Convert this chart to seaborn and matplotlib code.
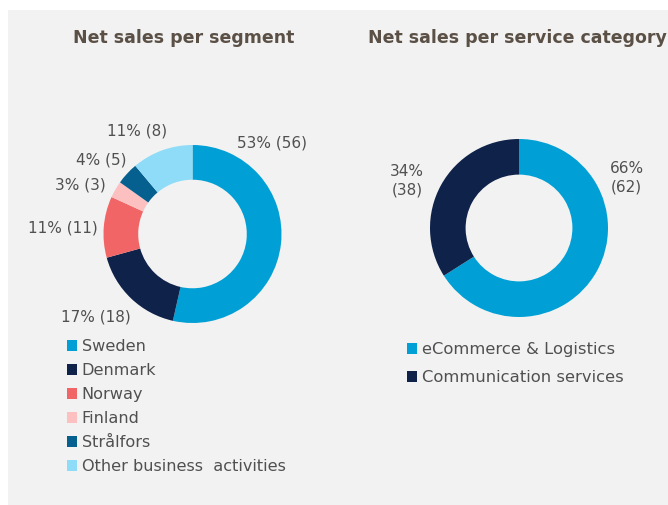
import matplotlib
matplotlib.use("Agg")
import matplotlib.pyplot as plt
import matplotlib.patches as mpatches
import seaborn as sns

# data
segments = ["Sweden", "Denmark", "Norway", "Finland", "Strålfors", "Other business  activities"]
segment_pct = [53, 17, 11, 3, 4, 11]
segment_sek = [56, 18, 11, 3, 5, 8]
segment_colors = ["#00a0d6", "#0f2249", "#f16566", "#fcc0c0", "#05608f", "#8edcf8"]

services = ["eCommerce & Logistics", "Communication services"]
service_pct = [66, 34]
service_sek = [62, 38]
service_colors = ["#00a0d6", "#0f2249"]

sns.set_theme(style="white")
plt.rcParams["font.family"] = ["DejaVu Sans"]

TXT = "#505050"
TITLE = "#5b5046"

fig = plt.figure(figsize=(6.68, 5.05), dpi=100)
fig.patch.set_facecolor("white")
fig.patches.append(mpatches.Rectangle((8 / 668, 0), 1, 1 - 10 / 505, transform=fig.transFigure,
                                      facecolor="#f2f2f2", edgecolor="none", zorder=-10))

L = 1.6
R = 89.0
W = 2 * L * R


def donut_axes(cx, cy):
    left = (cx - W / 2) / 668
    bottom = (505 - cy - W / 2) / 505
    ax = fig.add_axes([left, bottom, W / 668, W / 505])
    ax.set_facecolor("none")
    ax.axis("off")
    return ax


# left donut - per segment
ax1 = donut_axes(192.5, 234)
ax1.pie(segment_pct, colors=segment_colors, startangle=90, counterclock=False,
        radius=1, wedgeprops=dict(width=0.39, linewidth=0))
ax1.set_xlim(-L, L)
ax1.set_ylim(-L, L)
ax1.set_aspect("equal")
label_pos1 = [(0.89, 1.02), (-1.09, -0.93), (-1.46, 0.07), (-1.26, 0.55), (-1.03, 0.83), (-0.62, 1.16)]
for (x, y), p, v in zip(label_pos1, segment_pct, segment_sek):
    ax1.text(x, y, f"{p}% ({v})", ha="center", va="center", fontsize=11, color=TXT, clip_on=False)

# right donut - per service category
ax2 = donut_axes(519, 228)
ax2.pie(service_pct, colors=service_colors, startangle=90, counterclock=False,
        radius=1, wedgeprops=dict(width=0.4, linewidth=0))
ax2.set_xlim(-L, L)
ax2.set_ylim(-L, L)
ax2.set_aspect("equal")
label_pos2 = [(1.21, 0.56), (-1.26, 0.53)]
for (x, y), p, v in zip(label_pos2, service_pct, service_sek):
    ax2.text(x, y, f"{p}%\n({v})", ha="center", va="center", fontsize=11, color=TXT,
             linespacing=1.3, clip_on=False)

# titles
fig.text(183.5 / 668, 1 - 38 / 505, "Net sales per segment", ha="center", va="center",
         fontsize=12.5, fontweight="bold", color=TITLE)
fig.text(368 / 668, 1 - 38 / 505, "Net sales per service category", ha="left", va="center",
         fontsize=12.5, fontweight="bold", color=TITLE)

# legends
h1 = [mpatches.Patch(facecolor=c, edgecolor="none") for c in segment_colors]
lg1 = fig.legend(h1, segments, loc="upper left", bbox_to_anchor=(67 / 668, 1 - 339 / 505),
                 frameon=False, fontsize=11.6, handlelength=0.62, handleheight=0.68,
                 handletextpad=0.3, labelspacing=0.56, borderpad=0, borderaxespad=0)
for t in lg1.get_texts():
    t.set_color(TXT)

h2 = [mpatches.Patch(facecolor=c, edgecolor="none") for c in service_colors]
lg2 = fig.legend(h2, services, loc="upper left", bbox_to_anchor=(407 / 668, 1 - 342 / 505),
                 frameon=False, fontsize=11.8, handlelength=0.62, handleheight=0.68,
                 handletextpad=0.3, labelspacing=0.82, borderpad=0, borderaxespad=0)
for t in lg2.get_texts():
    t.set_color(TXT)

fig.savefig("out.png", dpi=100, facecolor=fig.get_facecolor())
